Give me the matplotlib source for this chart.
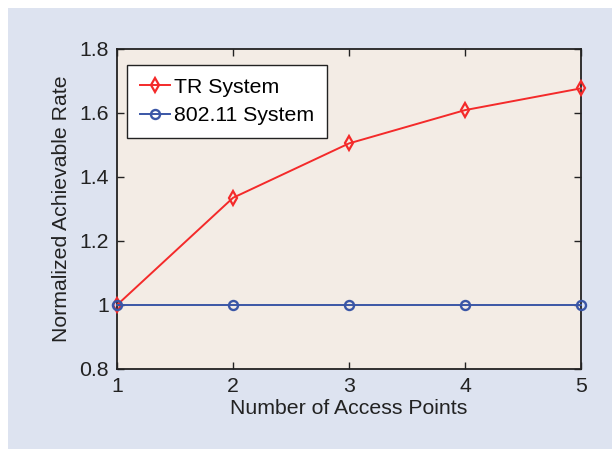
import matplotlib
matplotlib.use("Agg")
import matplotlib.pyplot as plt
from matplotlib.patches import Rectangle

x_aps = [1, 2, 3, 4, 5]
tr_rate = [1.0, 1.335, 1.505, 1.609, 1.677]
wifi_rate = [1.0, 1.0, 1.0, 1.0, 1.0]
x_ticks = [1, 2, 3, 4, 5]
y_ticks = [0.8, 1.0, 1.2, 1.4, 1.6, 1.8]
y_labels = ["0.8", "1", "1.2", "1.4", "1.6", "1.8"]

plt.rcParams['font.family'] = ['Liberation Sans', 'DejaVu Sans']
FS = 15.3

fig = plt.figure(figsize=(6.12, 4.49), dpi=100)
fig.patch.set_facecolor('white')
fig.patches.append(Rectangle((8/612, 0), 1 - 8/612, 1 - 8/449, transform=fig.transFigure,
                             facecolor='#dde3f0', edgecolor='none', zorder=-10))

ax = fig.add_axes([117/612, 1 - 369/449, (581-117)/612, (369-49)/449])
ax.set_facecolor('#f3ece5')

ax.plot(x_aps, tr_rate, color='#f42a2a', marker='d', markersize=7.5, markerfacecolor='none',
        markeredgewidth=1.6, linewidth=1.4, label='TR System', clip_on=False, zorder=3)
ax.plot(x_aps, wifi_rate, color='#3a56a6', marker='o', markersize=6.5, markerfacecolor='none',
        markeredgewidth=1.7, linewidth=1.4, label='802.11 System', clip_on=False, zorder=4)

ax.set_xlim(1, 5)
ax.set_ylim(0.8, 1.8)
ax.set_xticks(x_ticks)
ax.set_yticks(y_ticks)
ax.set_yticklabels(y_labels)
ax.tick_params(direction='in', top=True, right=True, labelsize=FS, length=5, width=1,
               colors='#222222', pad=6)
for s in ax.spines.values():
    s.set_linewidth(1.3)
    s.set_color('#222222')

ax.set_xlabel('Number of Access Points', fontsize=FS, color='#222222', labelpad=2)
ax.set_ylabel('Normalized Achievable Rate', fontsize=FS, color='#222222', labelpad=6)

leg = ax.legend(loc='upper left', bbox_to_anchor=(10/464, 1 - 16/320), borderaxespad=0,
                fontsize=FS, frameon=True,
                fancybox=False, edgecolor='#222222', facecolor='white', framealpha=1,
                handlelength=1.4, handletextpad=0.2, borderpad=0.6, labelspacing=0.45)
leg.get_frame().set_linewidth(1.0)

fig.savefig('out.png', dpi=100, facecolor=fig.get_facecolor())
